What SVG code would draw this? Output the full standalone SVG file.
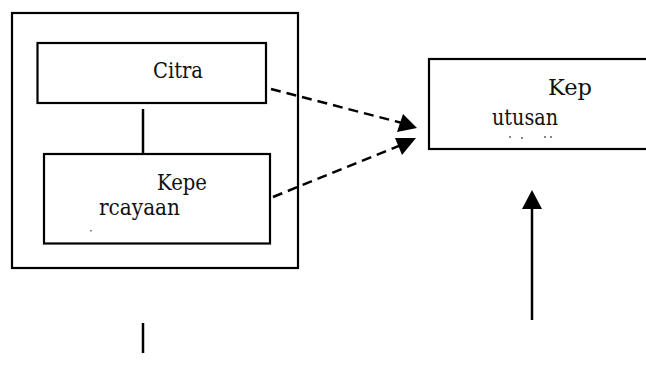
<svg xmlns="http://www.w3.org/2000/svg" width="646" height="369" viewBox="0 0 646 369">
  <style>
    .box { fill: #fff; stroke: #000; stroke-width: 2.2; }
    .frame { fill: none; stroke: #000; stroke-width: 2.2; }
    .label { font-family: "DejaVu Serif", "Liberation Serif", serif; font-size: 22px; fill: #111; }
    .solid { stroke: #000; stroke-width: 2.5; fill: none; }
    .dash { stroke: #000; stroke-width: 2.5; fill: none; stroke-dasharray: 10 6; }
    .head { fill: #000; }
    .speck { fill: #888; }
  </style>
  <rect width="646" height="369" fill="#fff"/>

  <!-- outer frame around the two source boxes -->
  <g id="frame">
    <rect class="frame" x="12" y="13" width="286" height="255"/>
  </g>

  <g id="citra">
    <rect class="box" x="37.5" y="43" width="228.5" height="60"/>
    <text class="label" x="153" y="78" textLength="50" lengthAdjust="spacingAndGlyphs">Citra</text>
  </g>

  <g id="kepercayaan">
    <rect class="box" x="44" y="154" width="226" height="89.5"/>
    <text class="label" x="157" y="190" textLength="50" lengthAdjust="spacingAndGlyphs">Kepe</text>
    <text class="label" x="99" y="215" textLength="81" lengthAdjust="spacingAndGlyphs">rcayaan</text>
    <rect class="speck" x="90" y="230" width="2" height="1.5"/>
  </g>

  <g id="keputusan">
    <rect class="box" x="429" y="59" width="222" height="90"/>
    <text class="label" x="548" y="95" textLength="44" lengthAdjust="spacingAndGlyphs">Kep</text>
    <text class="label" x="492" y="125" textLength="66" lengthAdjust="spacingAndGlyphs">utusan</text>
    <rect class="speck" x="509" y="136" width="2" height="2"/>
    <rect class="speck" x="521" y="137" width="2" height="2"/>
    <rect class="speck" x="544" y="136" width="2" height="2"/>
    <rect class="speck" x="550" y="136" width="2" height="2"/>
  </g>

  <g id="connectors">
    <!-- Citra to Kepercayaan -->
    <line class="solid" x1="143" y1="109" x2="143" y2="153"/>
    <!-- dashed links into Keputusan -->
    <line class="dash" x1="271" y1="89" x2="402" y2="123"/>
    <polygon class="head" points="417,128 397,132 403,114"/>
    <line class="dash" x1="273" y1="197" x2="401" y2="145"/>
    <polygon class="head" points="416,138 395,138 402,155"/>
    <!-- upward arrow into Keputusan -->
    <line class="solid" x1="532" y1="320" x2="532" y2="205"/>
    <polygon class="head" points="532,190 542,209 522,209"/>
    <!-- loose stub bottom left -->
    <line class="solid" x1="143" y1="323" x2="143" y2="353"/>
  </g>
</svg>
